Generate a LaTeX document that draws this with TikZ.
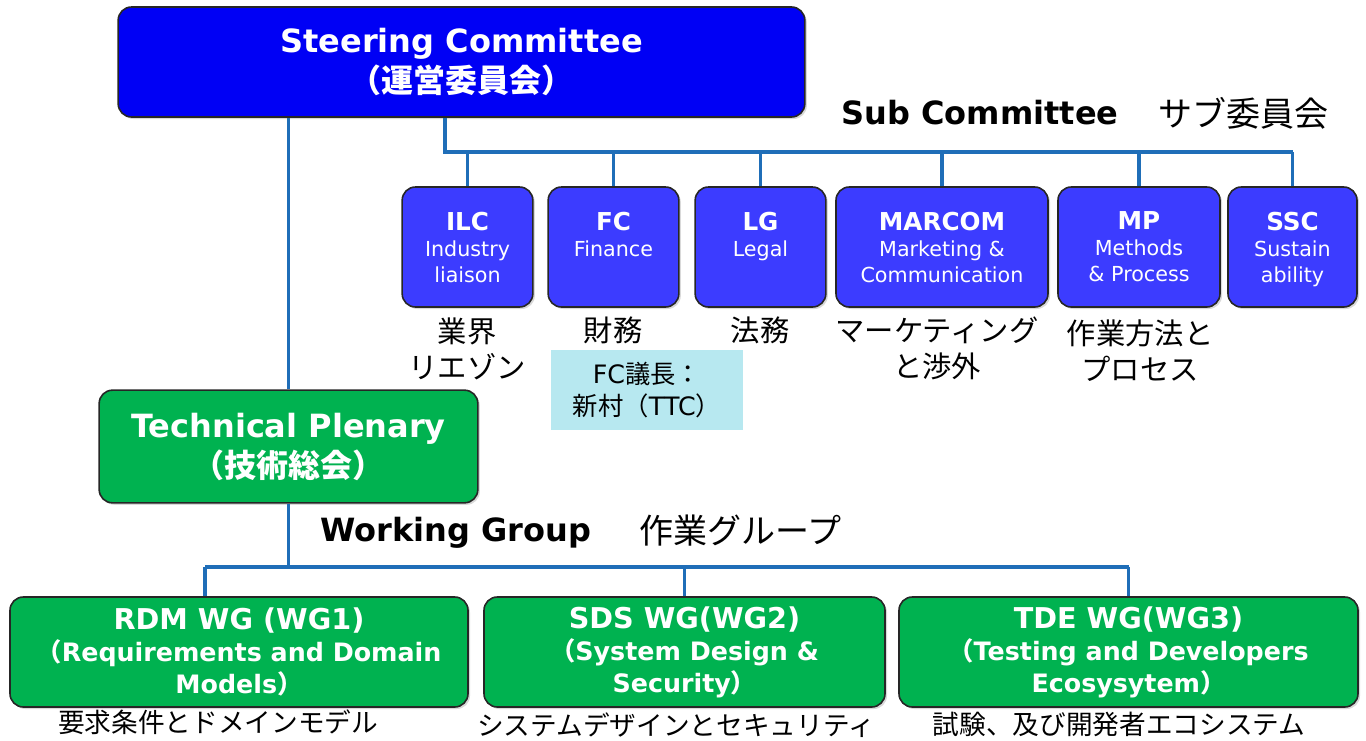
\documentclass[tikz,border=0pt]{standalone}
\usepackage{fontspec}
\setmainfont{DejaVu Sans}
\newfontfamily\jp{Noto Sans CJK JP}
\usetikzlibrary{shadows}

\definecolor{steerblue}{RGB}{0,0,245}
\definecolor{subblue}{RGB}{60,60,255}
\definecolor{plgreen}{RGB}{0,178,80}
\definecolor{linkblue}{RGB}{31,110,184}
\definecolor{notecyan}{RGB}{183,232,240}

\newcommand\subttlfont{\bfseries\fontsize{18.5}{22}\selectfont}
\newcommand\wgttlfont{\fontsize{21.5}{24}\selectfont}

\tikzset{
  box/.style={draw=black!85, line width=1.2pt, rounded corners=10pt, text=white,
    align=center, inner sep=0pt,
    drop shadow={opacity=0.3, shadow xshift=1.5pt, shadow yshift=-1.5pt}},
  bigbox/.style={box, fill=steerblue, font=\bfseries\fontsize{24}{30}\selectfont},
  subbox/.style={box, fill=subblue, minimum height=90pt, text depth=0pt,
    font=\fontsize{15.5}{19.5}\selectfont},
  wgbox/.style={box, fill=plgreen, minimum height=82.5pt,
    font=\bfseries\fontsize{19}{24}\selectfont},
  link/.style={draw=linkblue, line width=2.6pt},
  jplabel/.style={font=\jp\fontsize{22}{27}\selectfont, align=center},
  wglabel/.style={font=\jp\fontsize{20}{24}\selectfont},
  head/.style={font=\bfseries\fontsize{24}{28}\selectfont}
}

\begin{document}
\begin{tikzpicture}[x=0.75pt, y=-0.75pt]
  \useasboundingbox (0,0) rectangle (1366,740);

  % steering committee and plenary
  \node[bigbox, minimum width=515pt, minimum height=82.5pt] (steer) at (461.5,62)
    {Steering Committee\\{\jp （運営委員会）}};
  \node[bigbox, fill=plgreen, minimum width=284pt, minimum height=84.5pt] (tp) at (288.5,446.5)
    {Technical Plenary\\{\jp （技術総会）}};

  % sub committees
  \node[head] (subhd) at (980,113) {Sub Committee};
  \node[font=\jp\fontsize{25.5}{30}\selectfont] (subjp) at (1243,113) {サブ委員会};

  \node[subbox, minimum width=98pt] (ilc) at (467.5,247)
    {{\subttlfont ILC}\\Industry\\liaison};
  \node[subbox, minimum width=98pt] (fc) at (613.5,247)
    {{\subttlfont FC}\\Finance\\\strut};
  \node[subbox, minimum width=98pt] (lg) at (760.5,247)
    {{\subttlfont LG}\\Legal\\\strut};
  \node[subbox, minimum width=159pt] (marcom) at (942,247)
    {{\subttlfont MARCOM}\\Marketing \&\\Communication};
  \node[subbox, minimum width=121.5pt] (mp) at (1139,247)
    {{\subttlfont MP}\\Methods\\\& Process};
  \node[subbox, minimum width=96.75pt] (ssc) at (1292.5,247)
    {{\subttlfont SSC}\\Sustain\\ability};

  \node[jplabel] (ilcjp) at (467,349) {業界\\リエゾン};
  \node[jplabel] (fcjp) at (613,330) {財務};
  \node[jplabel] (lgjp) at (760,330) {法務};
  \node[jplabel] (marcomjp) at (937,348) {マーケティング\\と渉外};
  \node[jplabel] (mpjp) at (1140,351) {作業方法と\\プロセス};

  \node[fill=notecyan, minimum width=144pt, minimum height=60pt, align=center,
    font=\fontsize{19}{23.5}\selectfont] (fcnote) at (647,390)
    {FC{\jp 議長：}\\{\jp 新村（}TTC{\jp ）}};

  % working groups
  \node[head] (wghd) at (456,533) {Working Group};
  \node[font=\jp\fontsize{25.5}{30}\selectfont] (wgjp) at (740,531) {作業グループ};

  \node[wgbox, minimum width=343.5pt] (wg1) at (239,652)
    {{\wgttlfont RDM WG (WG1)}\\{\jp （}Requirements and Domain\\Models{\jp ）}};
  \node[wgbox, minimum width=300.75pt] (wg2) at (684.5,652)
    {{\wgttlfont SDS WG(WG2)}\\{\jp （}System Design \&\\Security{\jp ）}};
  \node[wgbox, minimum width=344.25pt] (wg3) at (1128.5,652)
    {{\wgttlfont TDE WG(WG3)}\\{\jp （}Testing and Developers\\Ecosysytem{\jp ）}};

  \node[wglabel] (wg1jp) at (218,722) {要求条件とドメインモデル};
  \node[wglabel] (wg2jp) at (676,725) {システムデザインとセキュリティ};
  \node[wglabel] (wg3jp) at (1119,724) {試験、及び開発者エコシステム};

  % connectors
  \coordinate (subbus) at (445,152);
  \coordinate (wgbus) at (293,567);
  \coordinate (wgleft) at (205,567);

  \path[link] (steer.south -| tp.north) -- (tp.north);
  \path[link] (steer.south -| subbus) -- (subbus) -- (subbus -| ssc.north);
  \foreach \n in {ilc,fc,lg,marcom,mp,ssc}
    \path[link] (subbus -| \n.north) -- (\n.north);
  \path[link] (tp.south) -- (tp.south |- wgbus);
  \path[link] (wgleft) -- (wgleft -| wg3.north);
  \path[link] (wgleft) -- (wgleft |- wg1.north);
  \path[link] (wgleft -| wg2.north) -- (wg2.north);
  \path[link] (wgleft -| wg3.north) -- (wg3.north);
\end{tikzpicture}
\end{document}
